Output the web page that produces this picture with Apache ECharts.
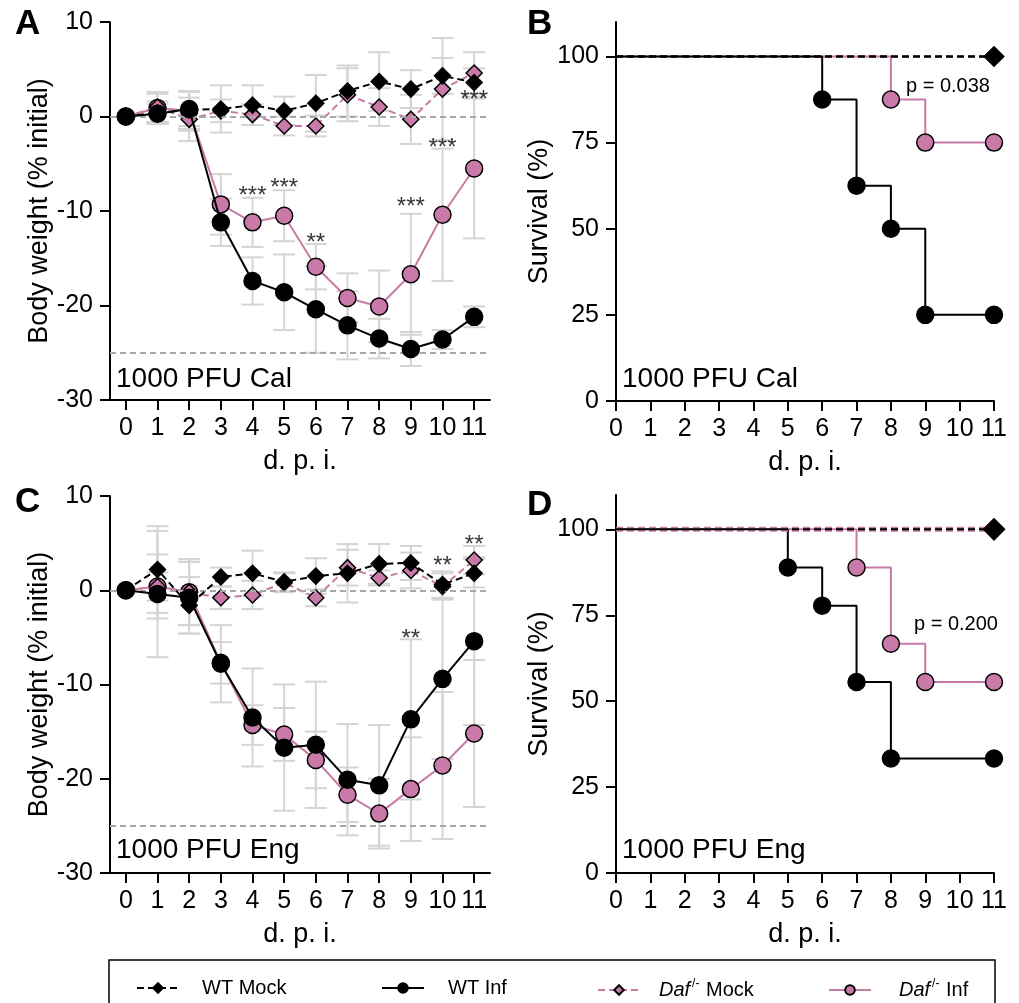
<!DOCTYPE html>
<html>
<head>
<meta charset="utf-8">
<script src="https://cdn.jsdelivr.net/npm/echarts@6/dist/echarts.min.js"></script>
<style>
html,body{margin:0;padding:0;background:#fff;}
#chart{width:1019px;height:1003px;}
</style>
</head>
<body>
<div id="chart"></div>
<script>
// ---------- DATA ----------
const days = [0,1,2,3,4,5,6,7,8,9,10,11];

// Panel A: body weight, 1000 PFU Cal
const wtMockA    = [0,0.4,0.7,0.8,1.2,0.6,1.4,2.7,3.7,2.9,4.3,3.6];
const wtMockA_sd = [0,1.2,2.0,2.5,2.1,1.5,3.0,2.7,3.1,2.0,1.9,1.5];
const dafMockA    = [0,1.0,-0.3,0.6,0.2,-1.0,-1.0,2.3,1.0,-0.3,2.9,4.6];
const dafMockA_sd = [0,1.6,2.3,1.2,1.1,1.0,1.1,2.8,2.0,2.6,5.4,2.2];
const wtInfA    = [0,0.3,0.8,-11.2,-17.4,-18.6,-20.4,-22.1,-23.5,-24.6,-23.6,-21.2];
const wtInfA_sd = [0,1.0,1.8,2.5,2.5,4.0,4.6,3.6,2.1,1.8,1.0,1.1];
const dafInfA    = [0,0.9,0.6,-9.3,-11.2,-10.5,-15.9,-19.2,-20.1,-16.7,-10.4,-5.5];
const dafInfA_sd = [0,1.5,2.1,3.2,2.6,2.7,2.4,2.6,3.8,6.4,7.0,7.4];
const sigA = [[4,-8.5,'***'],[5,-7.6,'***'],[6,-13.4,'**'],[9,-9.6,'***'],[10,-3.4,'***'],[11,1.7,'***']];

// Panel C: body weight, 1000 PFU Eng
const wtMockC    = [0,2.2,-1.6,1.4,1.8,0.9,1.5,1.8,2.8,2.9,0.6,1.8];
const wtMockC_sd = [0,4.6,3.0,1.0,2.4,1.0,1.9,3.1,2.1,1.8,1.4,1.5];
const dafMockC    = [0,0.4,-0.2,-0.8,-0.5,0.8,-0.8,2.4,1.3,2.1,0.4,3.2];
const dafMockC_sd = [0,3.4,3.5,1.2,1.5,1.0,0.9,1.9,0.8,1.9,1.4,1.5];
const wtInfC    = [0,-0.4,-0.8,-7.8,-13.5,-16.7,-16.4,-20.1,-20.7,-13.7,-9.4,-5.4];
const wtInfC_sd = [0,6.7,3.8,4.1,5.2,6.7,6.7,5.9,6.4,8.5,8.5,8.9];
const dafInfC    = [0,0.4,-0.2,-7.7,-14.3,-15.3,-18.0,-21.7,-23.7,-21.1,-18.6,-15.2];
const dafInfC_sd = [0,1.5,3.5,2.2,2.1,2.8,3.0,2.9,3.7,5.5,7.8,7.8];
const sigC = [[9,-5.2,'**'],[10,2.5,'**'],[11,4.8,'**']];

const weightRefLines = [0,-25];

// Panel B: survival, Cal  [day, %]
const survWtMockB = [[0,100],[11,100]];
const survDafMockB = [[0,100],[11,100]];
const survWtInfB = [[0,100],[6,87.5],[7,62.5],[8,50],[9,25],[11,25]];
const survDafInfB = [[0,100],[8,87.5],[9,75],[11,75]];
// Panel D: survival, Eng
const survWtMockD = [[0,100],[11,100]];
const survDafMockD = [[0,100],[11,100]];
const survWtInfD = [[0,100],[5,88.9],[6,77.8],[7,55.6],[8,33.3],[11,33.3]];
const survDafInfD = [[0,100],[7,88.9],[8,66.7],[9,55.6],[11,55.6]];

const weightTicks = [0,1,2,3,4,5,6,7,8,9,10,11];
const survYTicks = [0,25,50,75,100];

// ---------- STYLE ----------
const FONT = "'Liberation Sans', Arial, Helvetica, sans-serif";
const BLACK = '#000';
const PINK = '#c97aa8';
const PINK_LINE = '#c77ba6';
const ERR = '#d4d4d4';

const chart = echarts.init(document.getElementById('chart'), null, {renderer:'canvas'});

const grids = [
  {left:110, top:22, width:380, height:378},   // A
  {left:616, top:22, width:378, height:379},   // B
  {left:110, top:496, width:380, height:377},  // C
  {left:616, top:495, width:378, height:378}   // D
].map(g => Object.assign({containLabel:false, outerBoundsMode:'none'}, g));

function baseAxis(){
  return {
    axisLine:{show:true, onZero:false, lineStyle:{color:BLACK, width:2}},
    axisTick:{show:true, inside:false, length:10, lineStyle:{color:BLACK, width:2}},
    splitLine:{show:false},
    axisLabel:{color:BLACK, fontSize:25, fontFamily:FONT},
    nameTextStyle:{color:BLACK, fontSize:27, fontFamily:FONT},
    nameLocation:'middle'
  };
}

function weightX(gi){
  const a = baseAxis();
  return Object.assign(a, {
    type:'value', gridIndex:gi, min:-0.5, max:11.5, name:'d. p. i.', nameGap:48,
    axisTick:Object.assign(a.axisTick,{customValues:weightTicks}),
    axisLabel:Object.assign(a.axisLabel,{customValues:weightTicks, margin:16})
  });
}
function survX(gi){
  const a = baseAxis();
  return Object.assign(a, {
    type:'value', gridIndex:gi, min:0, max:11, interval:1, name:'d. p. i.', nameGap:48,
    axisLabel:Object.assign(a.axisLabel,{margin:16})
  });
}
function weightY(gi){
  const a = baseAxis();
  return Object.assign(a, {
    type:'value', gridIndex:gi, min:-30, max:10, interval:10, name:'Body weight (% initial)', nameGap:57,
    axisLabel:Object.assign(a.axisLabel,{margin:17})
  });
}
function survY(gi){
  const a = baseAxis();
  return Object.assign(a, {
    type:'value', gridIndex:gi, min:0, max:110, name:'Survival (%)', nameGap:51,
    axisTick:Object.assign(a.axisTick,{customValues:survYTicks}),
    axisLabel:Object.assign(a.axisLabel,{customValues:survYTicks, margin:17})
  });
}

function errRender(params, api){
  const x = api.value(0), m = api.value(1), s = api.value(2);
  if (!s) return null;
  const t = api.coord([x, m + s]), b = api.coord([x, m - s]);
  const w = 11;
  const st = {stroke:ERR, lineWidth:2};
  return {type:'group', children:[
    {type:'line', shape:{x1:t[0], y1:t[1], x2:b[0], y2:b[1]}, style:st},
    {type:'line', shape:{x1:t[0]-w, y1:t[1], x2:t[0]+w, y2:t[1]}, style:st},
    {type:'line', shape:{x1:b[0]-w, y1:b[1], x2:b[0]+w, y2:b[1]}, style:st}
  ]};
}

const series = [];
function pair(vals){ return days.map((d,i)=>[d, vals[i]]); }
function triple(vals, sd){ return days.map((d,i)=>[d, vals[i], sd[i]]); }

const styles = {
  'WT Mock': {color:BLACK, line:BLACK, dash:[7,4], symbol:'diamond', size:16, border:BLACK, z:6},
  'WT Inf': {color:BLACK, line:BLACK, dash:'solid', symbol:'circle', size:17, border:BLACK, z:5},
  'Daf Mock': {color:PINK, line:PINK_LINE, dash:[7,4], symbol:'diamond', size:16, border:BLACK, z:4},
  'Daf Inf': {color:PINK, line:PINK_LINE, dash:'solid', symbol:'circle', size:17, border:BLACK, z:3}
};

function weightPanel(gi, sets, sig){
  series.push({
    type:'line', xAxisIndex:gi, yAxisIndex:gi, data:[], z:1, silent:true,
    markLine:{silent:true, symbol:['none','none'], label:{show:false},
      lineStyle:{color:'#a8a8a8', type:[6,4], width:2},
      data: weightRefLines.map(v=>({yAxis:v}))}
  });
  sets.forEach(s=>{
    series.push({type:'custom', xAxisIndex:gi, yAxisIndex:gi, renderItem:errRender,
      data:triple(s.v, s.sd), encode:{x:0, y:1}, z:2, silent:true});
  });
  sets.forEach(s=>{
    const st = styles[s.name];
    series.push({
      type:'line', name:s.name, xAxisIndex:gi, yAxisIndex:gi, data:pair(s.v),
      symbol:st.symbol, symbolSize:st.size, showAllSymbol:true, z:st.z,
      lineStyle:{color:st.line, width:2, type:st.dash},
      itemStyle:{color:st.color, borderColor:st.border, borderWidth:1.5},
      emphasis:{disabled:true}, animation:false
    });
  });
  series.push({
    type:'scatter', xAxisIndex:gi, yAxisIndex:gi, data:sig, symbolSize:1, z:8,
    itemStyle:{color:'rgba(0,0,0,0)'}, silent:true,
    label:{show:true, position:'inside', formatter:p=>p.data[2], color:BLACK,
      fontSize:24, fontFamily:FONT, verticalAlign:'middle', align:'center'}
  });
}

function survPanel(gi, sets){
  sets.forEach(s=>{
    const st = styles[s.name];
    const mock = s.name.indexOf('Mock')>=0;
    series.push({
      type:'line', name:s.name, xAxisIndex:gi, yAxisIndex:gi, step:'end',
      data:s.d.map((p,i)=> i===0 || (mock && i < s.d.length-1) ? {value:p, symbol:'none'} : {value:p}),
      symbol:st.symbol, symbolSize: mock ? (s.w > 3 ? 21 : 19) : 17, showAllSymbol:true, z:s.z,
      lineStyle:{color: st.line, width: s.w || 2, type:st.dash},
      itemStyle:{color:st.color, borderColor:st.border, borderWidth:1.5},
      emphasis:{disabled:true}, animation:false
    });
  });
}

weightPanel(0, [
  {name:'Daf Inf', v:dafInfA, sd:dafInfA_sd},
  {name:'Daf Mock', v:dafMockA, sd:dafMockA_sd},
  {name:'WT Inf', v:wtInfA, sd:wtInfA_sd},
  {name:'WT Mock', v:wtMockA, sd:wtMockA_sd}
], sigA);
survPanel(1, [
  {name:'Daf Mock', d:survDafMockB, z:3, w:2},
  {name:'WT Inf', d:survWtInfB, z:4},
  {name:'Daf Inf', d:survDafInfB, z:2},
  {name:'WT Mock', d:survWtMockB, z:6, w:2.5}
]);
weightPanel(2, [
  {name:'Daf Inf', v:dafInfC, sd:dafInfC_sd},
  {name:'Daf Mock', v:dafMockC, sd:dafMockC_sd},
  {name:'WT Inf', v:wtInfC, sd:wtInfC_sd},
  {name:'WT Mock', v:wtMockC, sd:wtMockC_sd}
], sigC);
survPanel(3, [
  {name:'WT Inf', d:survWtInfD, z:3},
  {name:'Daf Inf', d:survDafInfD, z:2},
  {name:'Daf Mock', d:survDafMockD, z:5, w:5},
  {name:'WT Mock', d:survWtMockD, z:6, w:2}
]);

const legendRich = {
  n:{fontSize:20, fontFamily:FONT, color:BLACK, lineHeight:24},
  i:{fontSize:20, fontFamily:FONT, color:BLACK, fontStyle:'italic', lineHeight:24},
  s:{fontSize:12, fontFamily:FONT, color:BLACK, lineHeight:24, verticalAlign:'top', padding:[0,1,10,2]}
};
function legendFmt(name){
  if (name.indexOf('Daf')===0) return '{i|Daf}{s|/-}{n|' + name.slice(3) + '}';
  return '{n|' + name + '}';
}
function mkLegend(name, left, pad){
  return {data:[name], left:left, top:973, orient:'horizontal', selectedMode:false,
    itemWidth:42, itemHeight:12, formatter:legendFmt,
    textStyle:{rich:legendRich, padding:[0,0,0,pad], fontSize:20, fontFamily:FONT, color:BLACK}};
}

function txt(x, y, text, size, weight, align){
  return {type:'text', x:x, y:y, silent:true, z:100,
    style:{text:text, fill:BLACK, font:(weight||'normal')+' '+size+'px '+FONT, textAlign:align||'left', textVerticalAlign:'middle'}};
}

const option = {
  backgroundColor:'#fff',
  animation:false,
  grid:grids,
  xAxis:[weightX(0), survX(1), weightX(2), survX(3)],
  yAxis:[weightY(0), survY(1), weightY(2), survY(3)],
  legend:[
    mkLegend('WT Mock', 131, 18),
    mkLegend('WT Inf', 376, 19),
    mkLegend('Daf Mock', 592, 14),
    mkLegend('Daf Inf', 823, 23)
  ],
  series:series,
  graphic:[
    txt(15, 24, 'A', 35, 'bold'),
    txt(527, 24, 'B', 35, 'bold'),
    txt(15, 502, 'C', 35, 'bold'),
    txt(527, 505, 'D', 35, 'bold'),
    txt(116, 379, '1000 PFU Cal', 28),
    txt(622, 379, '1000 PFU Cal', 28),
    txt(116, 850, '1000 PFU Eng', 28),
    txt(622, 850, '1000 PFU Eng', 28),
    txt(906, 86, 'p = 0.038', 20),
    txt(914, 624, 'p = 0.200', 20),
    {type:'rect', shape:{x:109, y:960, width:886, height:60}, silent:true, z:0,
      style:{fill:'none', stroke:BLACK, lineWidth:1.5}}
  ]
};
chart.setOption(option);
</script>
</body>
</html>
